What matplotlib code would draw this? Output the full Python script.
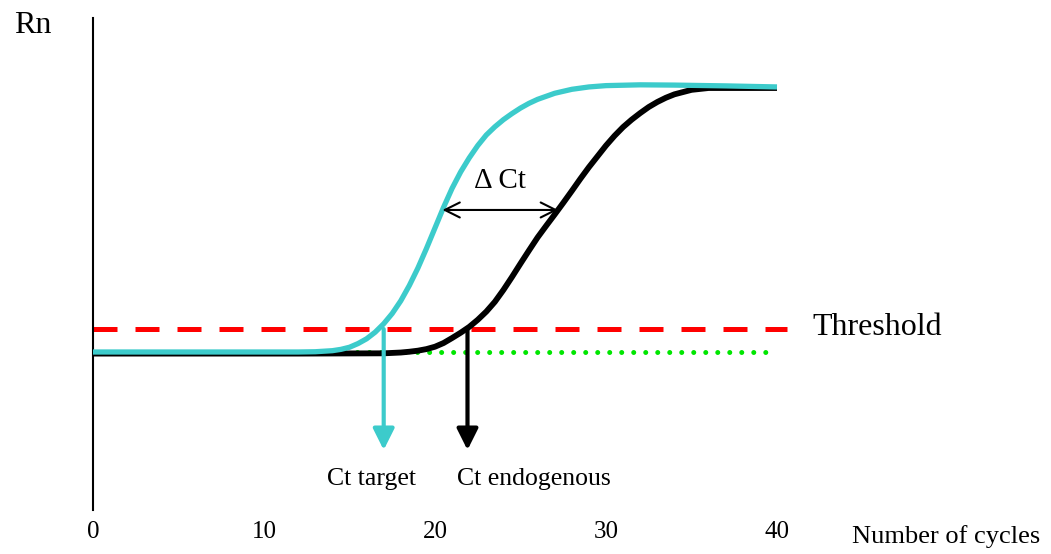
import numpy as np
import matplotlib
matplotlib.use("Agg")
import matplotlib.pyplot as plt

plt.rcParams['font.family'] = ['Liberation Serif', 'DejaVu Serif']

# Amplification curves (cycle number vs. normalised reporter signal Rn)
target_cycles = [0, 12.0, 13.0, 14.0, 14.5, 15.0, 15.5, 16.0, 16.5, 17.0, 17.5, 18.0,
                 18.5, 19.0, 19.5, 20.0, 20.5, 21.0, 21.5, 22.0, 22.5, 23.0, 23.5,
                 24.0, 24.5, 25.0, 25.5, 26.0, 27.0, 28.0, 29.0, 30.0, 32.0, 34.0,
                 37.0, 40.0]
target_rn = [0.0, 0.0, 0.001, 0.005, 0.010, 0.018, 0.032, 0.050, 0.075, 0.107, 0.146,
             0.194, 0.252, 0.318, 0.392, 0.470, 0.548, 0.620, 0.682, 0.735, 0.782,
             0.822, 0.853, 0.880, 0.903, 0.924, 0.942, 0.957, 0.980, 0.995, 1.004,
             1.009, 1.012, 1.011, 1.008, 1.004]

endo_cycles = [0, 12.0, 17.0, 18.0, 18.5, 19.0, 19.5, 20.0, 20.5, 21.0, 21.5, 22.0,
               22.5, 23.0, 23.5, 24.0, 24.5, 25.0, 25.5, 26.0, 26.5, 27.0, 27.5,
               28.0, 28.5, 29.0, 29.5, 30.0, 30.5, 31.0, 31.5, 32.0, 32.5, 33.0,
               33.5, 34.0, 35.0, 36.0, 40.0]
endo_rn = [-0.006, -0.006, -0.005, -0.002, 0.001, 0.005, 0.011, 0.020, 0.034, 0.053,
           0.073, 0.095, 0.122, 0.153, 0.190, 0.235, 0.284, 0.335, 0.385, 0.434,
           0.478, 0.521, 0.565, 0.610, 0.656, 0.700, 0.741, 0.782, 0.819, 0.852,
           0.880, 0.905, 0.928, 0.947, 0.963, 0.976, 0.993, 1.0, 1.0]

threshold = 0.087
baseline = 0.0
ct_target = 17.0
ct_endogenous = 21.9
delta_level = 0.538

x_ticks = [0, 10, 20, 30, 40]
x_tick_labels = ["0", "10", "20", "30", "40"]

CYAN = "#3CCBCB"
RED = "#FF0000"
GREEN = "#00E600"

fig = plt.figure(figsize=(10.51, 5.54), dpi=100)
ax = fig.add_axes([93 / 1051, 44 / 554, 1 - 93 / 1051, 1 - 44 / 554 - 18 / 554])
ax.set_xlim(0, (1051 - 93) / 17.1)
ax.set_ylim((352 - 510) / 264, (352 - 18) / 264)

for side in ("top", "right", "bottom"):
    ax.spines[side].set_visible(False)
ax.spines["left"].set_linewidth(1.5)
ax.set_yticks([])
ax.set_xticks(x_ticks)
ax.set_xticklabels(x_tick_labels, fontsize=18)
ax.tick_params(axis="x", length=0, pad=8)

# baseline and threshold
ax.plot([0, 40], [baseline, baseline], color=GREEN, lw=3.6,
        linestyle=(0, (0.001, 2.4)), dash_capstyle="round", zorder=1)
ax.plot([0, 40.6], [threshold, threshold], color=RED, lw=3.6,
        linestyle=(0, (4.8, 3.6)), zorder=2)

# curves
ax.plot(endo_cycles, endo_rn, color="black", lw=4.2, solid_joinstyle="round",
        solid_capstyle="butt", zorder=3)
ax.plot(target_cycles, target_rn, color=CYAN, lw=3.8, solid_joinstyle="round",
        solid_capstyle="butt", zorder=4)

# Ct arrows
arrow_tip = (352 - 450) / 264
for ct, col in ((ct_target, CYAN), (ct_endogenous, "black")):
    ax.annotate("", xy=(ct, arrow_tip), xytext=(ct, threshold),
                arrowprops=dict(arrowstyle="-|>", lw=3, color=col,
                                mutation_scale=32, shrinkA=0, shrinkB=0),
                zorder=5)

# Delta Ct arrow between the curves
x_left = np.interp(delta_level, target_rn[8:], target_cycles[8:])
x_right = np.interp(delta_level, endo_rn[5:], endo_cycles[5:])
ax.annotate("", xy=(x_right, delta_level), xytext=(x_left, delta_level),
            arrowprops=dict(arrowstyle="<->", lw=1.5, color="black",
                            mutation_scale=27, shrinkA=0, shrinkB=0),
            zorder=6)
ax.text((x_left + x_right) / 2, 0.648, "\u0394 Ct", fontsize=21,
        ha="center", va="center")

# labels
ax.text(42.1, 0.064, "Threshold", fontsize=23, ha="left", va="baseline")
ax.text(-4.62, 1.208, "Rn", fontsize=23, ha="left", va="baseline", clip_on=False)
ax.text(16.3, -0.504, "Ct target", fontsize=18.5, ha="center", va="baseline")
ax.text(21.3, -0.504, "Ct endogenous", fontsize=18.5, ha="left", va="baseline")
ax.text(44.4, -0.723, "Number of cycles", fontsize=19, ha="left", va="baseline",
        clip_on=False)

fig.savefig("out.png", dpi=100)
